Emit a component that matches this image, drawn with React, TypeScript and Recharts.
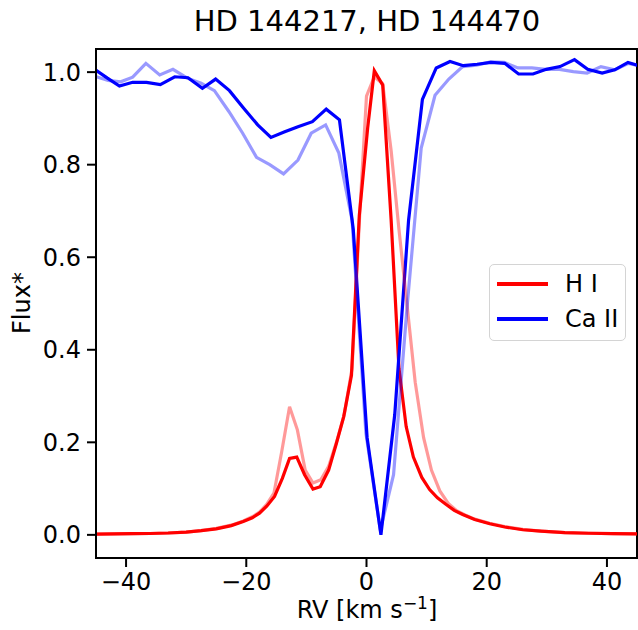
import { LineChart, Line, XAxis, YAxis, ReferenceArea } from 'recharts'

// H I, HD 144217 (solid red)
const hiV1 = [-45, -42, -39, -36, -33, -30, -27.5, -25, -22.5, -20.5, -19, -17.8, -16.6, -15.3, -14.0, -12.8, -11.6, -10.3, -8.9, -7.7, -6.3, -5.0, -3.8, -2.5, -1.2, 0.2, 1.3, 2.7, 4.1, 5.4, 6.6, 7.8, 9.2, 10.5, 11.8, 13.2, 14.6, 16.0, 18.0, 20.5, 23.0, 26.0, 29.0, 33.0, 37.0, 41.0, 45.0]
const hiF1 = [0.0015, 0.002, 0.0025, 0.003, 0.004, 0.006, 0.009, 0.013, 0.02, 0.029, 0.037, 0.047, 0.062, 0.083, 0.122, 0.165, 0.168, 0.13, 0.099, 0.104, 0.14, 0.198, 0.255, 0.345, 0.69, 0.88, 1.003, 0.972, 0.68, 0.36, 0.234, 0.168, 0.124, 0.098, 0.08, 0.066, 0.053, 0.044, 0.033, 0.024, 0.017, 0.011, 0.008, 0.005, 0.0035, 0.0025, 0.002]

// H I, HD 144470 (faded red)
const hiV2 = [-45, -42, -39, -36, -33, -30, -27.5, -25, -22.5, -20.5, -19, -17.8, -16.6, -15.4, -14.1, -12.8, -11.5, -10.2, -8.9, -7.6, -6.3, -5.0, -3.7, -2.4, -1.1, 0.0, 1.3, 2.7, 4.1, 5.4, 6.8, 8.1, 9.5, 10.8, 12.2, 13.6, 15.0, 16.4, 18.0, 20.5, 23.0, 26.0, 29.0, 33.0, 37.0, 41.0, 45.0]
const hiF2 = [0.0015, 0.002, 0.0025, 0.003, 0.004, 0.006, 0.009, 0.014, 0.021, 0.03, 0.039, 0.049, 0.066, 0.09, 0.18, 0.277, 0.227, 0.14, 0.112, 0.119, 0.148, 0.2, 0.26, 0.36, 0.7, 0.948, 0.99, 0.975, 0.83, 0.66, 0.49, 0.33, 0.21, 0.14, 0.095, 0.068, 0.052, 0.043, 0.034, 0.025, 0.018, 0.012, 0.008, 0.005, 0.0035, 0.0025, 0.002]

// Ca II, HD 144217 (solid blue)
const caV1 = [-45.1, -43.1, -41.1, -38.9, -36.6, -34.3, -31.9, -29.7, -27.3, -25.1, -22.8, -20.5, -18.1, -15.9, -13.6, -11.4, -9.0, -6.7, -4.5, -2.2, 0.1, 2.4, 4.7, 7.0, 9.3, 11.6, 13.9, 16.1, 18.4, 20.7, 23.0, 25.3, 27.7, 29.9, 32.2, 34.6, 36.8, 39.2, 41.3, 43.5, 45.8]
const caF1 = [1.005, 0.987, 0.97, 0.978, 0.978, 0.973, 0.99, 0.988, 0.965, 0.985, 0.96, 0.923, 0.886, 0.859, 0.871, 0.882, 0.893, 0.92, 0.897, 0.66, 0.21, 0.0, 0.26, 0.68, 0.941, 1.009, 1.023, 1.014, 1.017, 1.021, 1.019, 0.996, 0.996, 1.006, 1.012, 1.027, 1.006, 0.998, 1.005, 1.021, 1.012]

// Ca II, HD 144470 (faded blue)
const caV2 = [-45.2, -43.0, -40.9, -38.9, -36.7, -34.4, -32.2, -29.8, -27.5, -25.3, -22.9, -20.6, -18.3, -16.1, -13.8, -11.4, -9.2, -6.8, -4.6, -2.4, -0.1, 2.3, 4.5, 6.8, 9.1, 11.4, 13.7, 16.0, 18.3, 20.6, 22.9, 25.2, 27.5, 29.8, 32.1, 34.4, 36.7, 39.0, 41.3, 43.6, 45.9]
const caF2 = [0.991, 0.982, 0.979, 0.989, 1.019, 0.994, 1.006, 0.987, 0.976, 0.96, 0.915, 0.868, 0.816, 0.8, 0.78, 0.81, 0.868, 0.886, 0.825, 0.68, 0.22, 0.01, 0.13, 0.5, 0.836, 0.95, 0.985, 1.012, 1.015, 1.022, 1.021, 1.009, 1.009, 1.006, 1.006, 1.001, 0.998, 1.012, 1.005, 1.019, 1.012]

const xTicks = [-40, -20, 0, 20, 40]
const yTicks = [0, 0.2, 0.4, 0.6, 0.8, 1.0]
const legendItems = [
  { name: 'H I', color: '#ff0000' },
  { name: 'Ca II', color: '#0000ff' },
]

const zip = (v: number[], f: number[]) => v.map((x, i) => ({ v: x, f: f[i] }))

const FONT = '"DejaVu Sans", sans-serif'
const fmtX = (v: number) => (v < 0 ? `\u2212${Math.abs(v)}` : `${v}`)

function LegendBox() {
  return (
    <div style={{
      position: 'absolute', left: 489, top: 264, width: 137, height: 77, boxSizing: 'border-box',
      border: '1.5px solid #d4d4d4', borderRadius: 5, background: '#fff',
      fontFamily: FONT, fontSize: 24, color: '#000',
    }}>
      {legendItems.map((r, i) => (
        <div key={r.name} style={{ position: 'absolute', left: 0, top: 5 + i * 35, height: 28, display: 'flex', alignItems: 'center' }}>
          <div style={{ marginLeft: 7, width: 51, height: 3.2, background: r.color }} />
          <span style={{ marginLeft: 17, lineHeight: '28px' }}>{r.name}</span>
        </div>
      ))}
    </div>
  )
}

export default function App() {
  return (
    <div style={{ position: 'absolute', left: 0, top: 0, width: 638, height: 630, background: '#fff' }}>
      <LineChart width={638} height={630} margin={{ top: 49, right: 1, left: 0, bottom: 0 }}>
        <XAxis
          dataKey="v" type="number" domain={[-45, 45]} allowDataOverflow ticks={xTicks}
          tickFormatter={fmtX} height={72} tickSize={9} tickMargin={6}
          axisLine={{ stroke: '#000', strokeWidth: 2 }} tickLine={{ stroke: '#000', strokeWidth: 2 }}
          tick={{ fill: '#000', fontSize: 24, fontFamily: FONT }}
        />
        <YAxis
          type="number" domain={[-0.05, 1.05]} allowDataOverflow ticks={yTicks}
          tickFormatter={(v: number) => v.toFixed(1)} width={96} tickSize={9} tickMargin={6}
          axisLine={{ stroke: '#000', strokeWidth: 2 }} tickLine={{ stroke: '#000', strokeWidth: 2 }}
          tick={{ fill: '#000', fontSize: 24, fontFamily: FONT }}
        />
        <Line data={zip(hiV1, hiF1)} dataKey="f" name="H I" type="linear" stroke="#ff0000" strokeWidth={3.2} dot={false} activeDot={false} isAnimationActive={false} />
        <Line data={zip(caV1, caF1)} dataKey="f" name="Ca II" type="linear" stroke="#0000ff" strokeWidth={3.2} dot={false} activeDot={false} isAnimationActive={false} />
        <Line data={zip(hiV2, hiF2)} dataKey="f" name="H I 2" type="linear" stroke="#ff0000" strokeOpacity={0.4} strokeWidth={3.2} dot={false} activeDot={false} isAnimationActive={false} />
        <Line data={zip(caV2, caF2)} dataKey="f" name="Ca II 2" type="linear" stroke="#0000ff" strokeOpacity={0.4} strokeWidth={3.2} dot={false} activeDot={false} isAnimationActive={false} />
        <ReferenceArea x1={-45} x2={45} y1={-0.05} y2={1.05} fill="none" stroke="#000" strokeWidth={2} ifOverflow="visible" />
        <text x={367} y={31} textAnchor="middle" fontFamily={FONT} fontSize={29} fill="#000">HD 144217, HD 144470</text>
        <text x={367} y={618} textAnchor="middle" fontFamily={FONT} fontSize={24} fill="#000">
          RV [km s<tspan dy={-9} fontSize={17}>{'\u22121'}</tspan><tspan dy={9}>]</tspan>
        </text>
        <text x={30} y={303} textAnchor="middle" fontFamily={FONT} fontSize={24} fill="#000" transform="rotate(-90 30 303)">Flux*</text>
      </LineChart>
      <LegendBox />
    </div>
  )
}
